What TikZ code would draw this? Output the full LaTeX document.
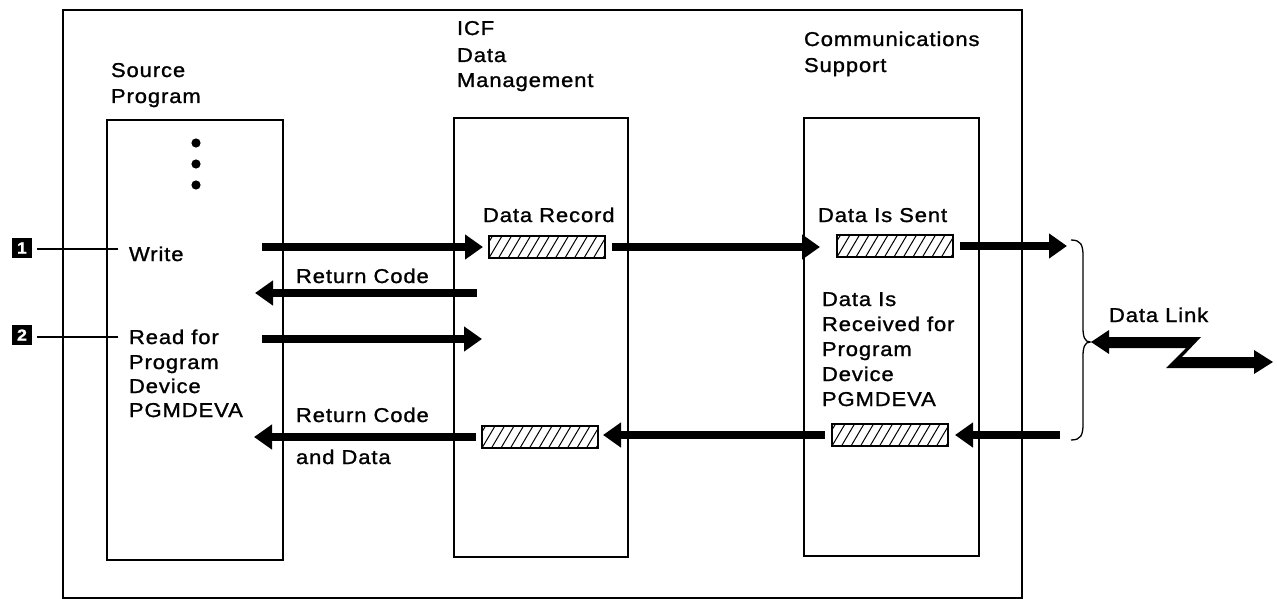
\documentclass[tikz,border=0pt]{standalone}
\usepackage{fontspec}
\setmainfont{Liberation Sans}[FakeStretch=1.1, LetterSpace=4.5, FakeBold=1.2]
\usetikzlibrary{arrows.meta}
\begin{document}
\begin{tikzpicture}[x=1pt,y=-1pt,
  every node/.style={inner sep=0pt, outer sep=0pt},
  txt/.style={anchor=base west, font=\fontsize{20}{22}\selectfont},
  frame/.style={draw, line width=1.2pt, anchor=north west},
  fat/.style={line width=8.5pt, -{Triangle[length=18pt,width=24pt]}},
  hatch/.style={draw, line width=1.3pt, anchor=north west, minimum width=116pt, minimum height=22pt,
    path picture={\foreach \k in {-2,...,13} {\draw[line width=1pt] ([xshift=\k*9.5pt]path picture bounding box.south west) -- ++(13pt,22pt);}}},
  marker/.style={fill=black, text=white, minimum size=20pt, font=\bfseries\fontsize{16}{16}\selectfont},
  thin/.style={line width=1.1pt}]
\useasboundingbox (0,0) rectangle (1277,599);

% frames
\node[frame, minimum width=959pt, minimum height=588pt] (outer) at (63,10) {};
\node[frame, minimum width=176pt, minimum height=440pt] (src) at (107,120) {};
\node[frame, minimum width=174pt, minimum height=439pt] (icf) at (454,118) {};
\node[frame, minimum width=175pt, minimum height=438pt] (com) at (804,118) {};

% titles
\node[txt] (s1) at (111,77) {Source};
\node[txt] (s2) at (111,103) {Program};
\node[txt] (i1) at (457,35) {ICF};
\node[txt] (i2) at (457,62) {Data};
\node[txt] (i3) at (457,87) {Management};
\node[txt] (c1) at (804,46) {Communications};
\node[txt] (c2) at (804,72) {Support};

% dots
\fill (196,143) circle (4.6);
\fill (196,164) circle (4.6);
\fill (196,185) circle (4.6);

% source texts
\node[txt] (w) at (129,261) {Write};
\node[txt] (r1) at (129,344) {Read for};
\node[txt] (r2) at (129,369) {Program};
\node[txt] (r3) at (129,393) {Device};
\node[txt] (r4) at (129,417) {PGMDEVA};

% markers
\node[marker] (m1) at (22,248) {1};
\node[marker] (m2) at (22,335) {2};
\coordinate (m1e) at (118,249);
\coordinate (m2e) at (118,337);
\draw[thin] (m1.east |- m1e) ++(5,0) -- (m1e);
\draw[thin] (m2.east |- m2e) ++(5,0) -- (m2e);

% hatched records
\node[txt] (dr) at (483,222) {Data Record};
\node[hatch] (rec1) at (489,236) {};
\node[txt] (ds) at (818,222) {Data Is Sent};
\node[hatch] (sent) at (837,235) {};
\node[hatch] (rec2) at (482,426) {};
\node[hatch] (recv) at (832,424) {};

% comm texts
\node[txt] (d1) at (822,306) {Data Is};
\node[txt] (d2) at (822,331) {Received for};
\node[txt] (d3) at (822,356) {Program};
\node[txt] (d4) at (822,381) {Device};
\node[txt] (d5) at (822,406) {PGMDEVA};

% return texts
\node[txt] (rc1) at (296,283) {Return Code};
\node[txt] (rc2) at (296,422) {Return Code};
\node[txt] (ad) at (296,464) {and Data};
\node[txt] (dl) at (1109,322) {Data Link};

% arrows
\coordinate (wA) at (262,247);
\draw[fat, shorten >=6pt] (wA) -- (rec1.west |- wA);
\draw[fat, shorten <=7pt, shorten >=17pt] (rec1.east) -- (sent.west |- rec1.east);
\coordinate (sentT) at (1067,246);
\draw[fat, shorten <=7pt] (sent.east) -- (sentT);
\coordinate (rcS) at (477,293);
\coordinate (rcT) at (255,293);
\draw[fat] (rcS) -- (rcT);
\coordinate (rdS) at (262,339);
\coordinate (rdT) at (482,339);
\draw[fat] (rdS) -- (rdT);
\coordinate (inS) at (1060,435);
\draw[fat, shorten >=7pt] (inS) -- (recv.east);
\draw[fat, shorten <=7pt, shorten >=5pt] (recv.west) -- (rec2.east |- recv.west);
\coordinate (outT) at (254,437);
\draw[fat, shorten <=6pt] (rec2.west) -- (outT);

% brace
\coordinate (bt) at (1071,240);
\coordinate (bm) at (1090,342);
\coordinate (bb) at (1071,440);
\draw[line width=1.3pt] (bt) .. controls (1081,240) and (1083,245) .. (1083,256) -- (1083,328)
  .. controls (1083,337) and (1085,342) .. (bm)
  .. controls (1085,342) and (1083,347) .. (1083,356) -- (1083,424)
  .. controls (1083,435) and (1081,440) .. (bb);

% data link Z
\fill (1091,342) -- (1109,330) -- (1109,337) -- (1201,337) -- (1182,357) -- (1254,357) -- (1254,350)
  -- (1273,362) -- (1254,374) -- (1254,368) -- (1166,368) -- (1186,348) -- (1109,348) -- (1109,354) -- cycle;
\end{tikzpicture}
\end{document}
